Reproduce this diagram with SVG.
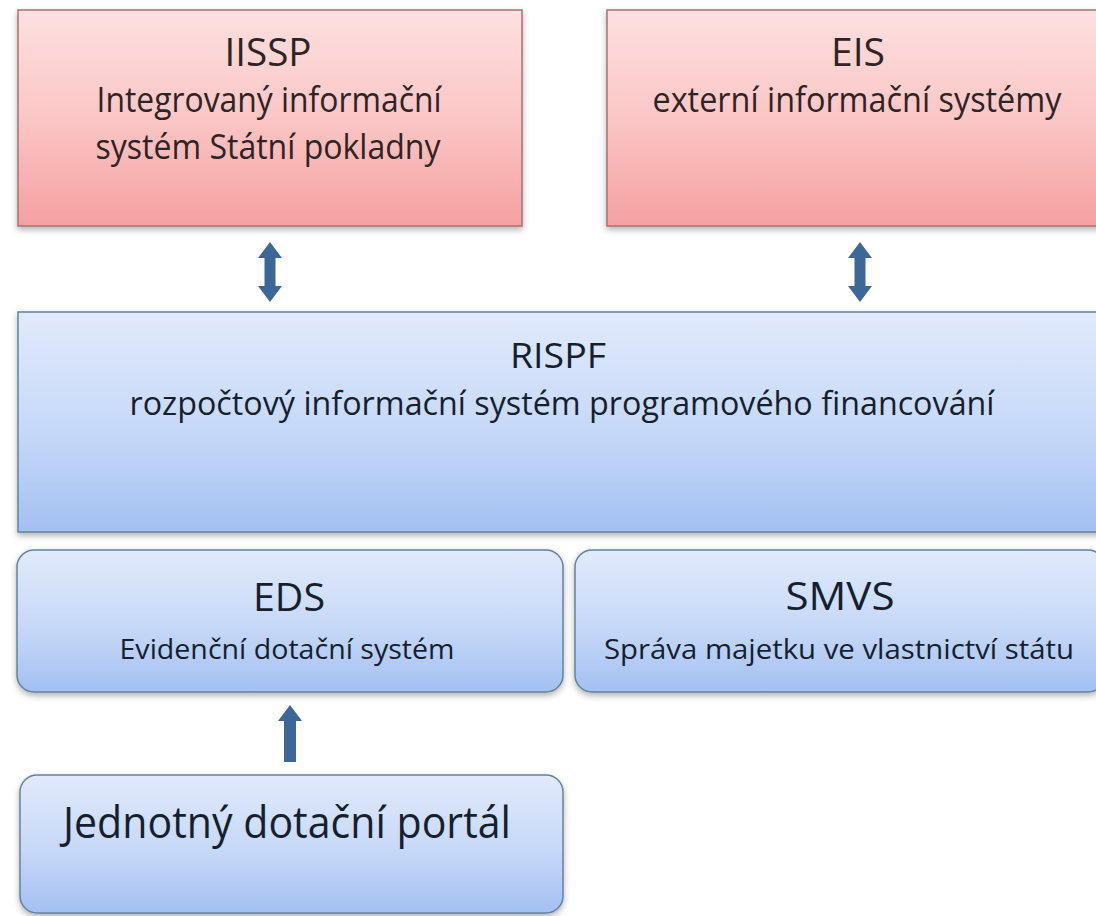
<svg xmlns="http://www.w3.org/2000/svg" width="1096" height="916" viewBox="0 0 1096 916">
<defs>
<linearGradient id="gRed" x1="0" y1="0" x2="0" y2="1">
<stop offset="0" stop-color="#fde0e0"/>
<stop offset="0.5" stop-color="#fbc6c6"/>
<stop offset="1" stop-color="#f5a0a0"/>
</linearGradient>
<linearGradient id="gBlue" x1="0" y1="0" x2="0" y2="1">
<stop offset="0" stop-color="#e1eafb"/>
<stop offset="0.55" stop-color="#c6d8f8"/>
<stop offset="1" stop-color="#a3c0f2"/>
</linearGradient>
<filter id="sh" x="-5%" y="-5%" width="110%" height="120%">
<feDropShadow dx="0" dy="3" stdDeviation="3" flood-color="#000" flood-opacity="0.3"/>
</filter>
</defs>
<style>
.red{fill:url(#gRed);stroke:#a87070;stroke-width:1.5;filter:url(#sh)}
.blue{fill:url(#gBlue);stroke:#63829e;stroke-width:1.5;filter:url(#sh)}
text{font-family:"Open Sans","Noto Sans","Liberation Sans",sans-serif;text-anchor:middle}
.tr{fill:#2e2424}
.tb{fill:#161f2e}
.arrow{fill:#3d6796}
</style>
<rect width="1096" height="916" fill="#ffffff"/>

<g id="IISSP">
<rect class="red" x="18" y="10" width="504" height="216"/>
<text class="tr" x="268" y="66" font-size="38" textLength="87" lengthAdjust="spacingAndGlyphs">IISSP</text>
<text class="tr" x="269" y="112" font-size="34" textLength="345" lengthAdjust="spacingAndGlyphs">Integrovaný informační</text>
<text class="tr" x="268" y="159" font-size="34" textLength="345" lengthAdjust="spacingAndGlyphs">systém Státní pokladny</text>
</g>

<g id="EIS">
<rect class="red" x="607" y="10" width="500" height="216"/>
<text class="tr" x="858" y="66" font-size="38" textLength="54" lengthAdjust="spacingAndGlyphs">EIS</text>
<text class="tr" x="857" y="112" font-size="34" textLength="409" lengthAdjust="spacingAndGlyphs">externí informační systémy</text>
</g>

<g id="RISPF">
<rect class="blue" x="18" y="312" width="1090" height="220"/>
<text class="tb" x="558" y="368" font-size="35" textLength="96" lengthAdjust="spacingAndGlyphs">RISPF</text>
<text class="tb" x="562" y="415" font-size="32" textLength="865" lengthAdjust="spacingAndGlyphs">rozpočtový informační systém programového financování</text>
</g>

<g id="EDS">
<rect class="blue" x="17" y="550" width="546" height="142" rx="17"/>
<text class="tb" x="289" y="611" font-size="39" textLength="72" lengthAdjust="spacingAndGlyphs">EDS</text>
<text class="tb" x="287" y="659" font-size="27" textLength="335" lengthAdjust="spacingAndGlyphs">Evidenční dotační systém</text>
</g>

<g id="SMVS">
<rect class="blue" x="575" y="550" width="530" height="142" rx="17"/>
<text class="tb" x="840" y="610" font-size="39" textLength="109" lengthAdjust="spacingAndGlyphs">SMVS</text>
<text class="tb" x="839" y="659" font-size="27" textLength="470" lengthAdjust="spacingAndGlyphs">Správa majetku ve vlastnictví státu</text>
</g>

<g id="JDP">
<rect class="blue" x="20" y="775" width="543" height="138" rx="17"/>
<text class="tb" x="287" y="838" font-size="43" textLength="448" lengthAdjust="spacingAndGlyphs">Jednotný dotační portál</text>
</g>

<g id="connectors">
<polygon class="arrow" points="270,242 282,258 275.5,258 275.5,286 282,286 270,302 258,286 264.5,286 264.5,258 258,258"/>
<polygon class="arrow" points="860,242 872,258 865.5,258 865.5,286 872,286 860,302 848,286 854.5,286 854.5,258 848,258"/>
<polygon class="arrow" points="290,705 302,721 296,721 296,762 284,762 284,721 278,721"/>
</g>
</svg>
